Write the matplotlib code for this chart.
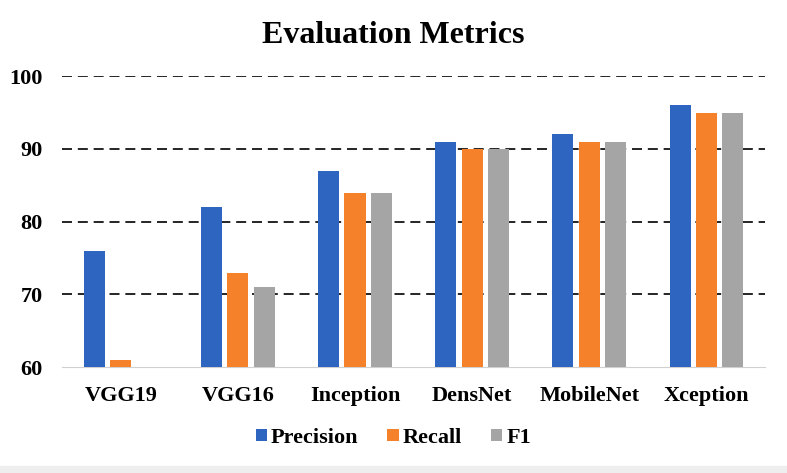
import matplotlib.pyplot as plt
import numpy as np

# data
models = ['VGG19', 'VGG16', 'Inception', 'DensNet', 'MobileNet', 'Xception']
precision = [76, 82, 87, 91, 92, 96]
recall = [61, 73, 84, 90, 91, 95]
f1 = [60, 71, 84, 90, 91, 95]

colors = ['#2E65C1', '#F5822A', '#A5A5A5']
serif = ['Liberation Serif', 'DejaVu Serif']

fig = plt.figure(figsize=(7.87, 4.73), dpi=100)
ax = fig.add_axes([0.079, 0.224, 0.893, 0.615])

x = np.arange(len(models))
w = 0.18
step = 0.225
for i, (vals, name) in enumerate(zip([precision, recall, f1], ['Precision', 'Recall', 'F1'])):
    heights = np.array(vals) - 60
    ax.bar(x + (i - 1) * step, heights, w, bottom=60, color=colors[i], label=name, zorder=3)

ax.set_xlim(-0.5, len(models) - 0.5)
ax.set_ylim(60, 100)
ax.set_yticks([60, 70, 80, 90, 100])
for y in [70, 80, 90, 100]:
    ax.axhline(y, color='black', linestyle=(0, (6, 3.5)), linewidth=1.2, zorder=1)

ax.set_xticks(x)
ax.set_xticklabels(models)
for lab in ax.get_xticklabels() + ax.get_yticklabels():
    lab.set_family(serif)
    lab.set_fontweight('bold')
    lab.set_fontsize(16)
ax.tick_params(length=0)
ax.tick_params(axis='x', pad=14)
ax.tick_params(axis='y', pad=14)

for s in ['top', 'right', 'left']:
    ax.spines[s].set_visible(False)
ax.spines['bottom'].set_color('#D0D0D0')

fig.text(0.5, 0.925, 'Evaluation Metrics', ha='center', va='center',
         family=serif, fontweight='bold', fontsize=23)

leg = fig.legend(loc='center', bbox_to_anchor=(0.5, 0.074), ncol=3, frameon=False,
                 prop={'family': serif, 'weight': 'bold', 'size': 16},
                 handlelength=0.5, handleheight=0.5, handletextpad=0.2, columnspacing=1.3)

# light strip at the bottom edge
fig.add_artist(plt.Rectangle((0, 0), 1, 0.014, transform=fig.transFigure, color='#EEEEEE'))

fig.savefig('out.png', dpi=100)
